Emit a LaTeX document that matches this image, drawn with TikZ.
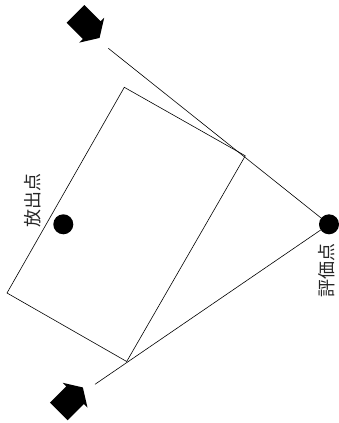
\documentclass[tikz,border=0pt]{standalone}
\usepackage{fontspec}
\newfontfamily\cjk{Noto Sans CJK JP}
\tikzset{
  thinline/.style={line width=0.6pt, black},
  bigdot/.style={circle, fill=black, inner sep=0pt, minimum size=20pt},
  lbl/.style={font=\cjk\fontsize{18}{18}\selectfont, text=black!85, inner sep=0pt, rotate=90},
  blockarrow/.pic={
    \fill[black] (0,-12.5) -- (23,-12.5) -- (23,-17.6) -- (34,0) -- (23,17.6) -- (23,12.5) -- (0,12.5) -- cycle;
  }
}
\begin{document}
\begin{tikzpicture}[x=1pt,y=-1pt]
\useasboundingbox (0,0) rectangle (339,423);
% rectangle (wall / obstacle)
\coordinate (rtop) at (124.3,87.3);
\coordinate (rright) at (245.3,155.8);
\coordinate (rbot) at (126.7,361.5);
\coordinate (rleft) at (7,293);
\draw[thinline] (rtop) -- (rright) -- (rbot) -- (rleft) -- cycle;
% points
\node[bigdot] (emit) at (63.3,224.3) {};
\node[bigdot] (eval) at (329,224.3) {};
% labels
\node[lbl] (emitlbl) at (33,200) {放出点};
\node[lbl] (evallbl) at (327,270) {評価点};
% sight lines
\coordinate (ustart) at (108.3,48.3);
\coordinate (lstart) at (95,384.3);
\draw[thinline] (ustart) -- (eval.center);
\draw[thinline] (lstart) -- (eval.center);
% block arrows
\pic[rotate=-45] at (75.5,13.9) {blockarrow};
\pic[rotate=45] at (58.8,411.5) {blockarrow};
\end{tikzpicture}
\end{document}
